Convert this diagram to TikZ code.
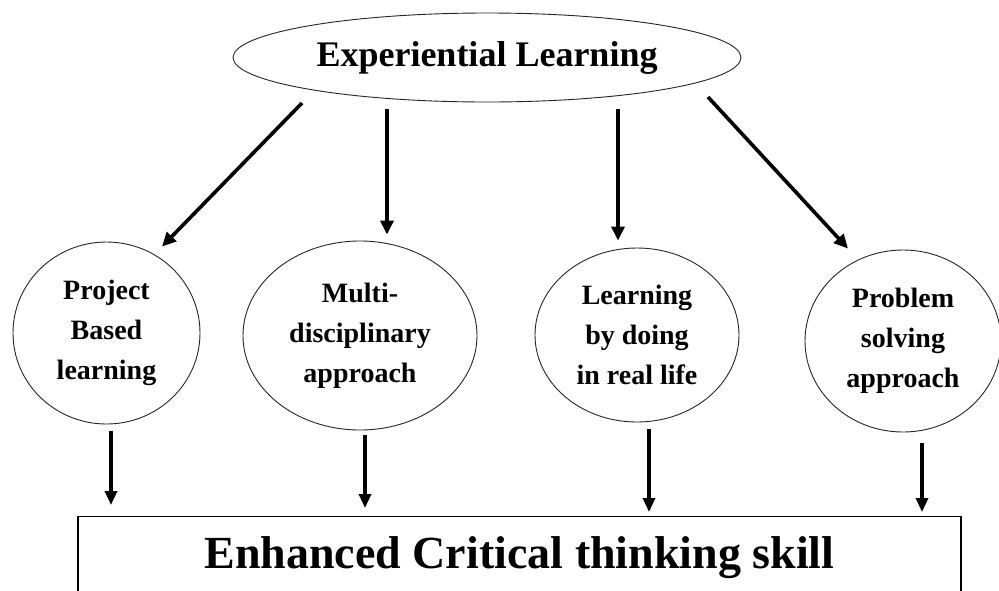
\documentclass[tikz,border=0pt]{standalone}
\usepackage{fontspec}
\setmainfont{Liberation Serif}
\usetikzlibrary{shapes.geometric,arrows.meta,calc}
\begin{document}
\begin{tikzpicture}[x=1pt,y=-1pt,
  oval/.style={ellipse, draw=black!85, line width=0.9pt, inner sep=0pt, align=center,
    font=\bfseries\fontsize{28}{40}\selectfont},
  arr/.style={line width=3.6pt, -{Triangle[length=14pt,width=13pt]}},
  arrb/.style={line width=3.2pt, -{Triangle[length=14pt,width=12pt]}},
  ]
\clip (0,0) rectangle (999,590);
\fill[white] (0,0) rectangle (999,590);
\node[ellipse, draw=black!85, line width=0.9pt, minimum width=508pt, minimum height=89pt,
  inner sep=0pt, font=\bfseries\fontsize{36}{40}\selectfont] (top) at (487,57.5) {Experiential Learning};
\node[oval, minimum width=187pt, minimum height=182pt] (e1) at (106.5,333) {Project\\Based\\learning};
\node[oval, minimum width=234pt, minimum height=189pt] (e2) at (360,335.5) {Multi-\\disciplinary\\approach};
\node[oval, minimum width=204pt, minimum height=174pt] (e3) at (637,335) {Learning\\by doing\\in real life};
\node[oval, minimum width=196pt, minimum height=182pt] (e4) at (903,341) {Problem\\solving\\approach};
\node[draw=black, line width=1.2pt, minimum width=883pt, minimum height=83pt, inner sep=0pt,
  anchor=north, font=\bfseries\fontsize{46}{50}\selectfont] (res) at (519.5,516) {Enhanced Critical thinking skill};
% arrows from top
\draw[arr] ($(top.center)+(-185,45.5)$) -- ($(e1.north)+(55.5,5)$);
\draw[arr] ($(top.center)+(-100,51.5)$) -- ($(e2.north)+(27,-6)$);
\draw[arr] ($(top.center)+(131,51.5)$) -- ($(e3.north)+(-19,-7)$);
\draw[arr] ($(top.center)+(221,39.5)$) -- ($(e4.north)+(-55,-1)$);
% arrows to result
\draw[arrb] ($(e1.south)+(4.5,7)$) -- ($(e1.south |- res.north)+(4.5,-11)$);
\draw[arrb] ($(e2.south)+(5,5)$) -- ($(e2.south |- res.north)+(5,-8)$);
\draw[arrb] ($(e3.south)+(12,7)$) -- ($(e3.south |- res.north)+(12,-4)$);
\draw[arrb] ($(e4.south)+(19,11)$) -- ($(e4.south |- res.north)+(19,-4)$);
\end{tikzpicture}
\end{document}
